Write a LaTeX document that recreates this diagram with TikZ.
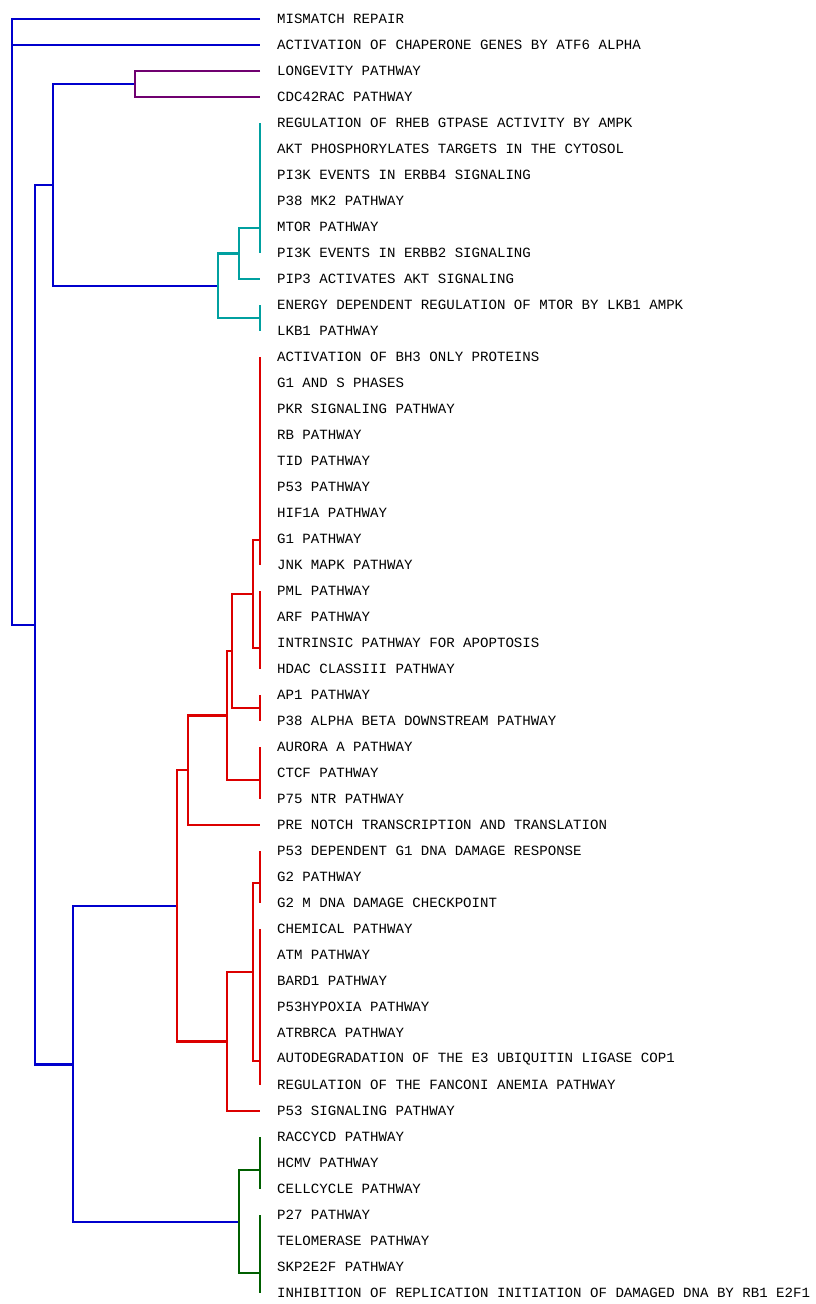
\documentclass[tikz,border=0pt]{standalone}
\usepackage{fontspec}
\setmonofont{Liberation Mono}
\begin{document}
\begin{tikzpicture}[x=1pt, y=-1pt, line width=2.2pt,
  lbl/.style={anchor=west, inner sep=0pt, font=\ttfamily\fontsize{14.1}{16}\selectfont},
  flat/.style={line width=1.3pt}]
\definecolor{TreeBlue}{RGB}{0, 0, 205}
\definecolor{TreePurple}{RGB}{112, 0, 112}
\definecolor{TreeTeal}{RGB}{0, 160, 160}
\definecolor{TreeRed}{RGB}{220, 0, 0}
\definecolor{TreeGreen}{RGB}{0, 95, 0}
\useasboundingbox (0,0) rectangle (816,1304);
\foreach \n/\t in {0/{MISMATCH REPAIR}, 1/{ACTIVATION OF CHAPERONE GENES BY ATF6 ALPHA},
  2/{LONGEVITY PATHWAY}, 3/{CDC42RAC PATHWAY}, 4/{REGULATION OF RHEB GTPASE ACTIVITY BY AMPK},
  5/{AKT PHOSPHORYLATES TARGETS IN THE CYTOSOL}, 6/{PI3K EVENTS IN ERBB4 SIGNALING},
  7/{P38 MK2 PATHWAY}, 8/{MTOR PATHWAY}, 9/{PI3K EVENTS IN ERBB2 SIGNALING},
  10/{PIP3 ACTIVATES AKT SIGNALING}, 11/{ENERGY DEPENDENT REGULATION OF MTOR BY LKB1 AMPK},
  12/{LKB1 PATHWAY}, 13/{ACTIVATION OF BH3 ONLY PROTEINS}, 14/{G1 AND S PHASES},
  15/{PKR SIGNALING PATHWAY}, 16/{RB PATHWAY}, 17/{TID PATHWAY}, 18/{P53 PATHWAY},
  19/{HIF1A PATHWAY}, 20/{G1 PATHWAY}, 21/{JNK MAPK PATHWAY}, 22/{PML PATHWAY},
  23/{ARF PATHWAY}, 24/{INTRINSIC PATHWAY FOR APOPTOSIS}, 25/{HDAC CLASSIII PATHWAY},
  26/{AP1 PATHWAY}, 27/{P38 ALPHA BETA DOWNSTREAM PATHWAY}, 28/{AURORA A PATHWAY},
  29/{CTCF PATHWAY}, 30/{P75 NTR PATHWAY}, 31/{PRE NOTCH TRANSCRIPTION AND TRANSLATION},
  32/{P53 DEPENDENT G1 DNA DAMAGE RESPONSE}, 33/{G2 PATHWAY}, 34/{G2 M DNA DAMAGE CHECKPOINT},
  35/{CHEMICAL PATHWAY}, 36/{ATM PATHWAY}, 37/{BARD1 PATHWAY}, 38/{P53HYPOXIA PATHWAY},
  39/{ATRBRCA PATHWAY}, 40/{AUTODEGRADATION OF THE E3 UBIQUITIN LIGASE COP1},
  41/{REGULATION OF THE FANCONI ANEMIA PATHWAY}, 42/{P53 SIGNALING PATHWAY},
  43/{RACCYCD PATHWAY}, 44/{HCMV PATHWAY}, 45/{CELLCYCLE PATHWAY}, 46/{P27 PATHWAY},
  47/{TELOMERASE PATHWAY}, 48/{SKP2E2F PATHWAY},
  49/{INHIBITION OF REPLICATION INITIATION OF DAMAGED DNA BY RB1 E2F1}}{
\coordinate (e\n) at (260, {19+26*\n});
\node[lbl] (l\n) at (276, {19+26*\n}) {\t};
}
% joints
\coordinate (q01) at (12, 32);
\coordinate (n1) at (35, 625);
\coordinate (n2) at (53, 185);
\coordinate (n3) at (73, 1064.5);
\coordinate (p1) at (135, 84);
\coordinate (t1) at (218, 285.75);
\coordinate (t2) at (239, 253.5);
\coordinate (t3) at (260, 318);
\coordinate (t4) at (260, 228);
\coordinate (r1) at (177, 905.75);
\coordinate (r2) at (188, 770.25);
\coordinate (r3) at (227, 1041.5);
\coordinate (r4) at (227, 715.5);
\coordinate (r5) at (253, 972);
\coordinate (r6) at (232, 651);
\coordinate (r7) at (260, 780);
\coordinate (r8) at (253, 594);
\coordinate (r9) at (260, 708);
\coordinate (r10) at (260, 540);
\coordinate (r11) at (260, 648);
\coordinate (r12) at (260, 883);
\coordinate (r13) at (260, 1061);
\coordinate (g1) at (239, 1222);
\coordinate (g2) at (260, 1170);
\coordinate (g3) at (260, 1273);
% blue links
\draw[TreeBlue] (e0) -| (q01) |- (e1);
\draw[TreeBlue] (q01) |- (n1);
\draw[TreeBlue] (n2) -| (n1) |- (n3);
\draw[TreeBlue] (p1) -| (n2) |- (t1);
\draw[TreeBlue] (r1) -| (n3) |- (g1);
% purple
\draw[TreePurple] (e2) -| (p1) |- (e3);
% teal
\draw[TreeTeal] (t2) -| (t1) |- (t3);
\draw[TreeTeal] (t4) -| (t2) |- (e10);
\draw[TreeTeal, flat] (e4) -- (e9);
\draw[TreeTeal, flat] (e11) -- (e12);
% red
\draw[TreeRed] (r2) -| (r1) |- (r3);
\draw[TreeRed] (r4) -| (r2) |- (e31);
\draw[TreeRed] (r5) -| (r3) |- (e42);
\draw[TreeRed] (r6) -| (r4) |- (r7);
\draw[TreeRed] (r8) -| (r6) |- (r9);
\draw[TreeRed] (r10) -| (r8) |- (r11);
\draw[TreeRed] (r12) -| (r5) |- (r13);
\foreach \a/\b in {13/21, 22/25, 26/27, 28/30, 32/34, 35/41}{
\draw[TreeRed, flat] (e\a) -- (e\b);
}
% green
\draw[TreeGreen] (g2) -| (g1) |- (g3);
\draw[TreeGreen, flat] (e43) -- (e45);
\draw[TreeGreen, flat] (e46) -- (e49);
\end{tikzpicture}
\end{document}
